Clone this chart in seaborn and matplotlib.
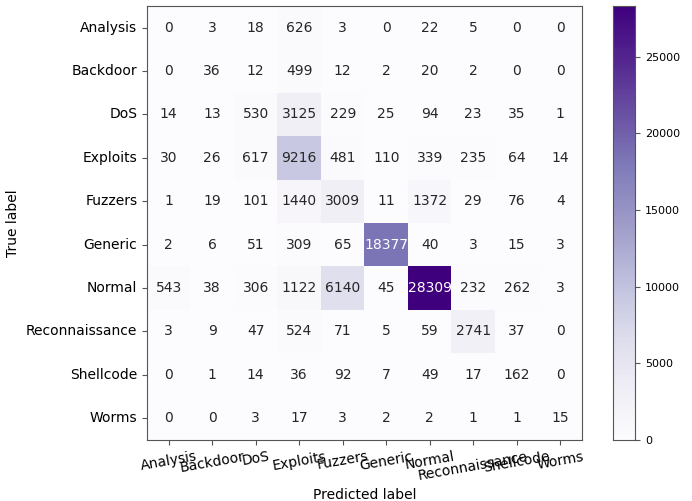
import numpy
import pandas
import matplotlib
matplotlib.use("Agg")
import matplotlib.pyplot as plt
import seaborn

# class names (true rows / predicted cols)
labels = ['Analysis', 'Backdoor', 'DoS', 'Exploits', 'Fuzzers', 'Generic',
          'Normal', 'Reconnaissance', 'Shellcode', 'Worms']

# confusion matrix rows, one per true label
row_analysis = [0, 3, 18, 626, 3, 0, 22, 5, 0, 0]
row_backdoor = [0, 36, 12, 499, 12, 2, 20, 2, 0, 0]
row_dos = [14, 13, 530, 3125, 229, 25, 94, 23, 35, 1]
row_exploits = [30, 26, 617, 9216, 481, 110, 339, 235, 64, 14]
row_fuzzers = [1, 19, 101, 1440, 3009, 11, 1372, 29, 76, 4]
row_generic = [2, 6, 51, 309, 65, 18377, 40, 3, 15, 3]
row_normal = [543, 38, 306, 1122, 6140, 45, 28309, 232, 262, 3]
row_recon = [3, 9, 47, 524, 71, 5, 59, 2741, 37, 0]
row_shellcode = [0, 1, 14, 36, 92, 7, 49, 17, 162, 0]
row_worms = [0, 0, 3, 17, 3, 2, 2, 1, 1, 15]

cm = pandas.DataFrame([row_analysis, row_backdoor, row_dos, row_exploits,
                       row_fuzzers, row_generic, row_normal, row_recon,
                       row_shellcode, row_worms],
                      index=labels, columns=labels)

fig = plt.figure(figsize=(6.92, 5.01), dpi=100)
ax = fig.add_axes([0.2124, 0.122, 0.6286, 0.866])
cax = fig.add_axes([0.886, 0.122, 0.032, 0.866])

seaborn.heatmap(cm, ax=ax, cbar_ax=cax, cmap='Purples', annot=True, fmt='d',
                annot_kws={'fontsize': 10})

for s in ax.spines.values():
    s.set_visible(True)
    s.set_color('#555555')
for s in cax.spines.values():
    s.set_visible(True)
    s.set_color('#555555')

ax.tick_params(axis='both', length=3.5, color='#555555')
ax.set_xticklabels(labels, rotation=10, fontsize=10)
ax.set_yticklabels(labels, rotation=0, fontsize=10)
ax.set_xlabel('Predicted label', fontsize=10)
ax.set_ylabel('True label', fontsize=10)
cax.tick_params(labelsize=8, length=3.5, color='#555555')
cax.set_yticks([0, 5000, 10000, 15000, 20000, 25000])

plt.savefig('out.png', dpi=100)
